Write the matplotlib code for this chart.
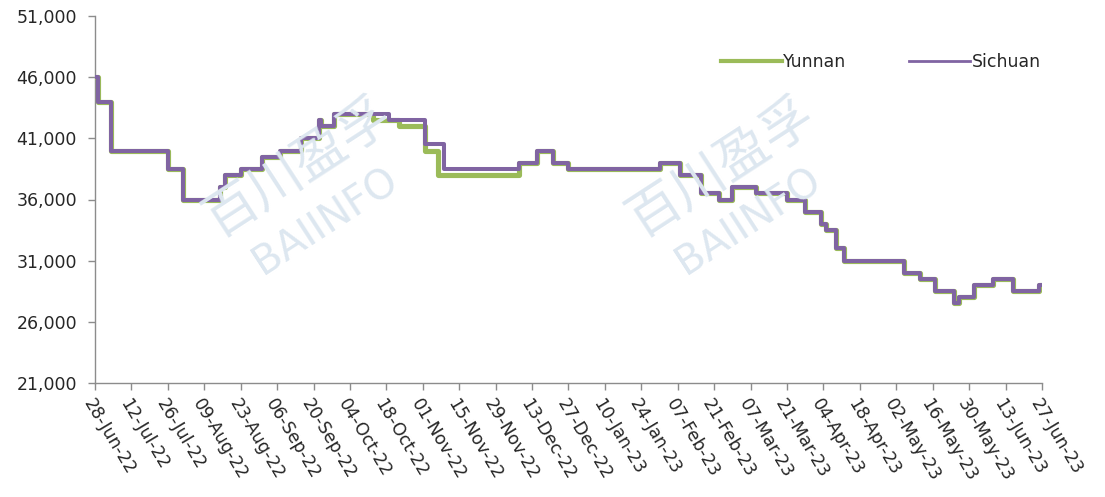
import matplotlib
matplotlib.use("Agg")
import matplotlib.pyplot as plt
import pandas as pd

# ---- data (change points, step series) ----
start_date = "2022-06-28"
end_date = "2023-06-27"

sichuan_days = [0, 1, 6, 28, 34, 48, 50, 56, 64, 71, 79, 86, 87, 92, 113, 127, 134,
                163, 170, 176, 182, 217, 225, 233, 240, 245, 254, 266, 273, 279, 281,
                285, 288, 311, 317, 323, 330, 332, 338, 345, 353, 363, 364]
sichuan_vals = [46000, 44000, 40000, 38500, 36000, 37000, 38000, 38500, 39500, 40000,
                41000, 42500, 42000, 43000, 42500, 40500, 38500, 39000, 40000, 39000,
                38500, 39000, 38000, 36500, 36000, 37000, 36500, 36000, 35000, 34000,
                33500, 32000, 31000, 30000, 29500, 28500, 27500, 28000, 29000, 29500,
                28500, 29000, 29000]

yunnan_days = [0, 1, 6, 28, 34, 48, 50, 56, 64, 71, 79, 86, 87, 92, 107, 117, 127, 132,
               163, 170, 176, 182, 217, 225, 233, 240, 245, 254, 266, 273, 279, 281,
               285, 288, 311, 317, 323, 330, 332, 338, 345, 353, 363, 364]
yunnan_vals = [46000, 44000, 40000, 38500, 36000, 37000, 38000, 38500, 39500, 40000,
               41000, 42500, 42000, 43000, 42500, 42000, 40000, 38000, 39000, 40000,
               39000, 38500, 39000, 38000, 36500, 36000, 37000, 36500, 36000, 35000,
               34000, 33500, 32000, 31000, 30000, 29500, 28500, 27500, 28000, 29000,
               29500, 28500, 29000, 29000]

series_names = ["Yunnan", "Sichuan"]
y_ticks = [21000, 26000, 31000, 36000, 41000, 46000, 51000]
tick_step_days = 14

# ---- figure ----
fig = plt.figure(figsize=(11.05, 4.97), dpi=100)
ax = fig.add_axes([95/1105, 1-383/497, (1042-95)/1105, (383-16)/497])

t0 = pd.Timestamp(start_date)
t1 = pd.Timestamp(end_date)
yn_dates = [t0 + pd.Timedelta(days=d) for d in yunnan_days]
sc_dates = [t0 + pd.Timedelta(days=d) for d in sichuan_days]

# watermark
wm_color = "#dde7f0"
for cx in (298, 721):
    fig.text(cx/1105, 1-167/497, "百川盈孚", fontsize=38, color=wm_color,
             family=["Noto Sans CJK SC", "DejaVu Sans"], rotation=33,
             ha="center", va="center", zorder=0)
    fig.text((cx+28)/1105, 1-222/497, "BAIINFO", fontsize=29, color=wm_color,
             rotation=33, ha="center", va="center", zorder=0)

ax.patch.set_alpha(0)
ax.plot(yn_dates, yunnan_vals, drawstyle="steps-post", color="#9BBB59", lw=3.7,
        label=series_names[0], zorder=3)
ax.plot(sc_dates, sichuan_vals, drawstyle="steps-post", color="#8064A2", lw=2.9,
        label=series_names[1], zorder=4)

ax.set_xlim(t0, t1)
ax.set_ylim(21000, 51000)
ax.set_yticks(y_ticks)
ax.set_yticklabels([f"{v:,}" for v in y_ticks])

xt = pd.date_range(t0, t1, freq=f"{tick_step_days}D")
ax.set_xticks(xt)
ax.set_xticklabels([d.strftime("%d-%b-%y") for d in xt], rotation=-59,
                   ha="left", va="top", rotation_mode="anchor")

for s in ("top", "right"):
    ax.spines[s].set_visible(False)
for s in ("left", "bottom"):
    ax.spines[s].set_color("#8c8c8c")
    ax.spines[s].set_linewidth(1.0)
ax.tick_params(axis="both", colors="#8c8c8c", length=5, width=1.0,
               labelsize=12.5, labelcolor="#262626")
ax.tick_params(axis="x", pad=4)
ax.tick_params(axis="y", pad=8)

# legend
h, l = ax.get_legend_handles_labels()
leg = fig.legend(h, l, loc="center left", bbox_to_anchor=(714/1105, 1-62/497),
                 ncol=2, frameon=False, fontsize=12.5, handlelength=3.5,
                 handletextpad=0.1, columnspacing=3.6, borderaxespad=0)
leg.legend_handles[0].set_linewidth(3.0)
leg.legend_handles[1].set_linewidth(2.0)
for t in leg.get_texts():
    t.set_color("#262626")

fig.savefig("out.png", dpi=100)
